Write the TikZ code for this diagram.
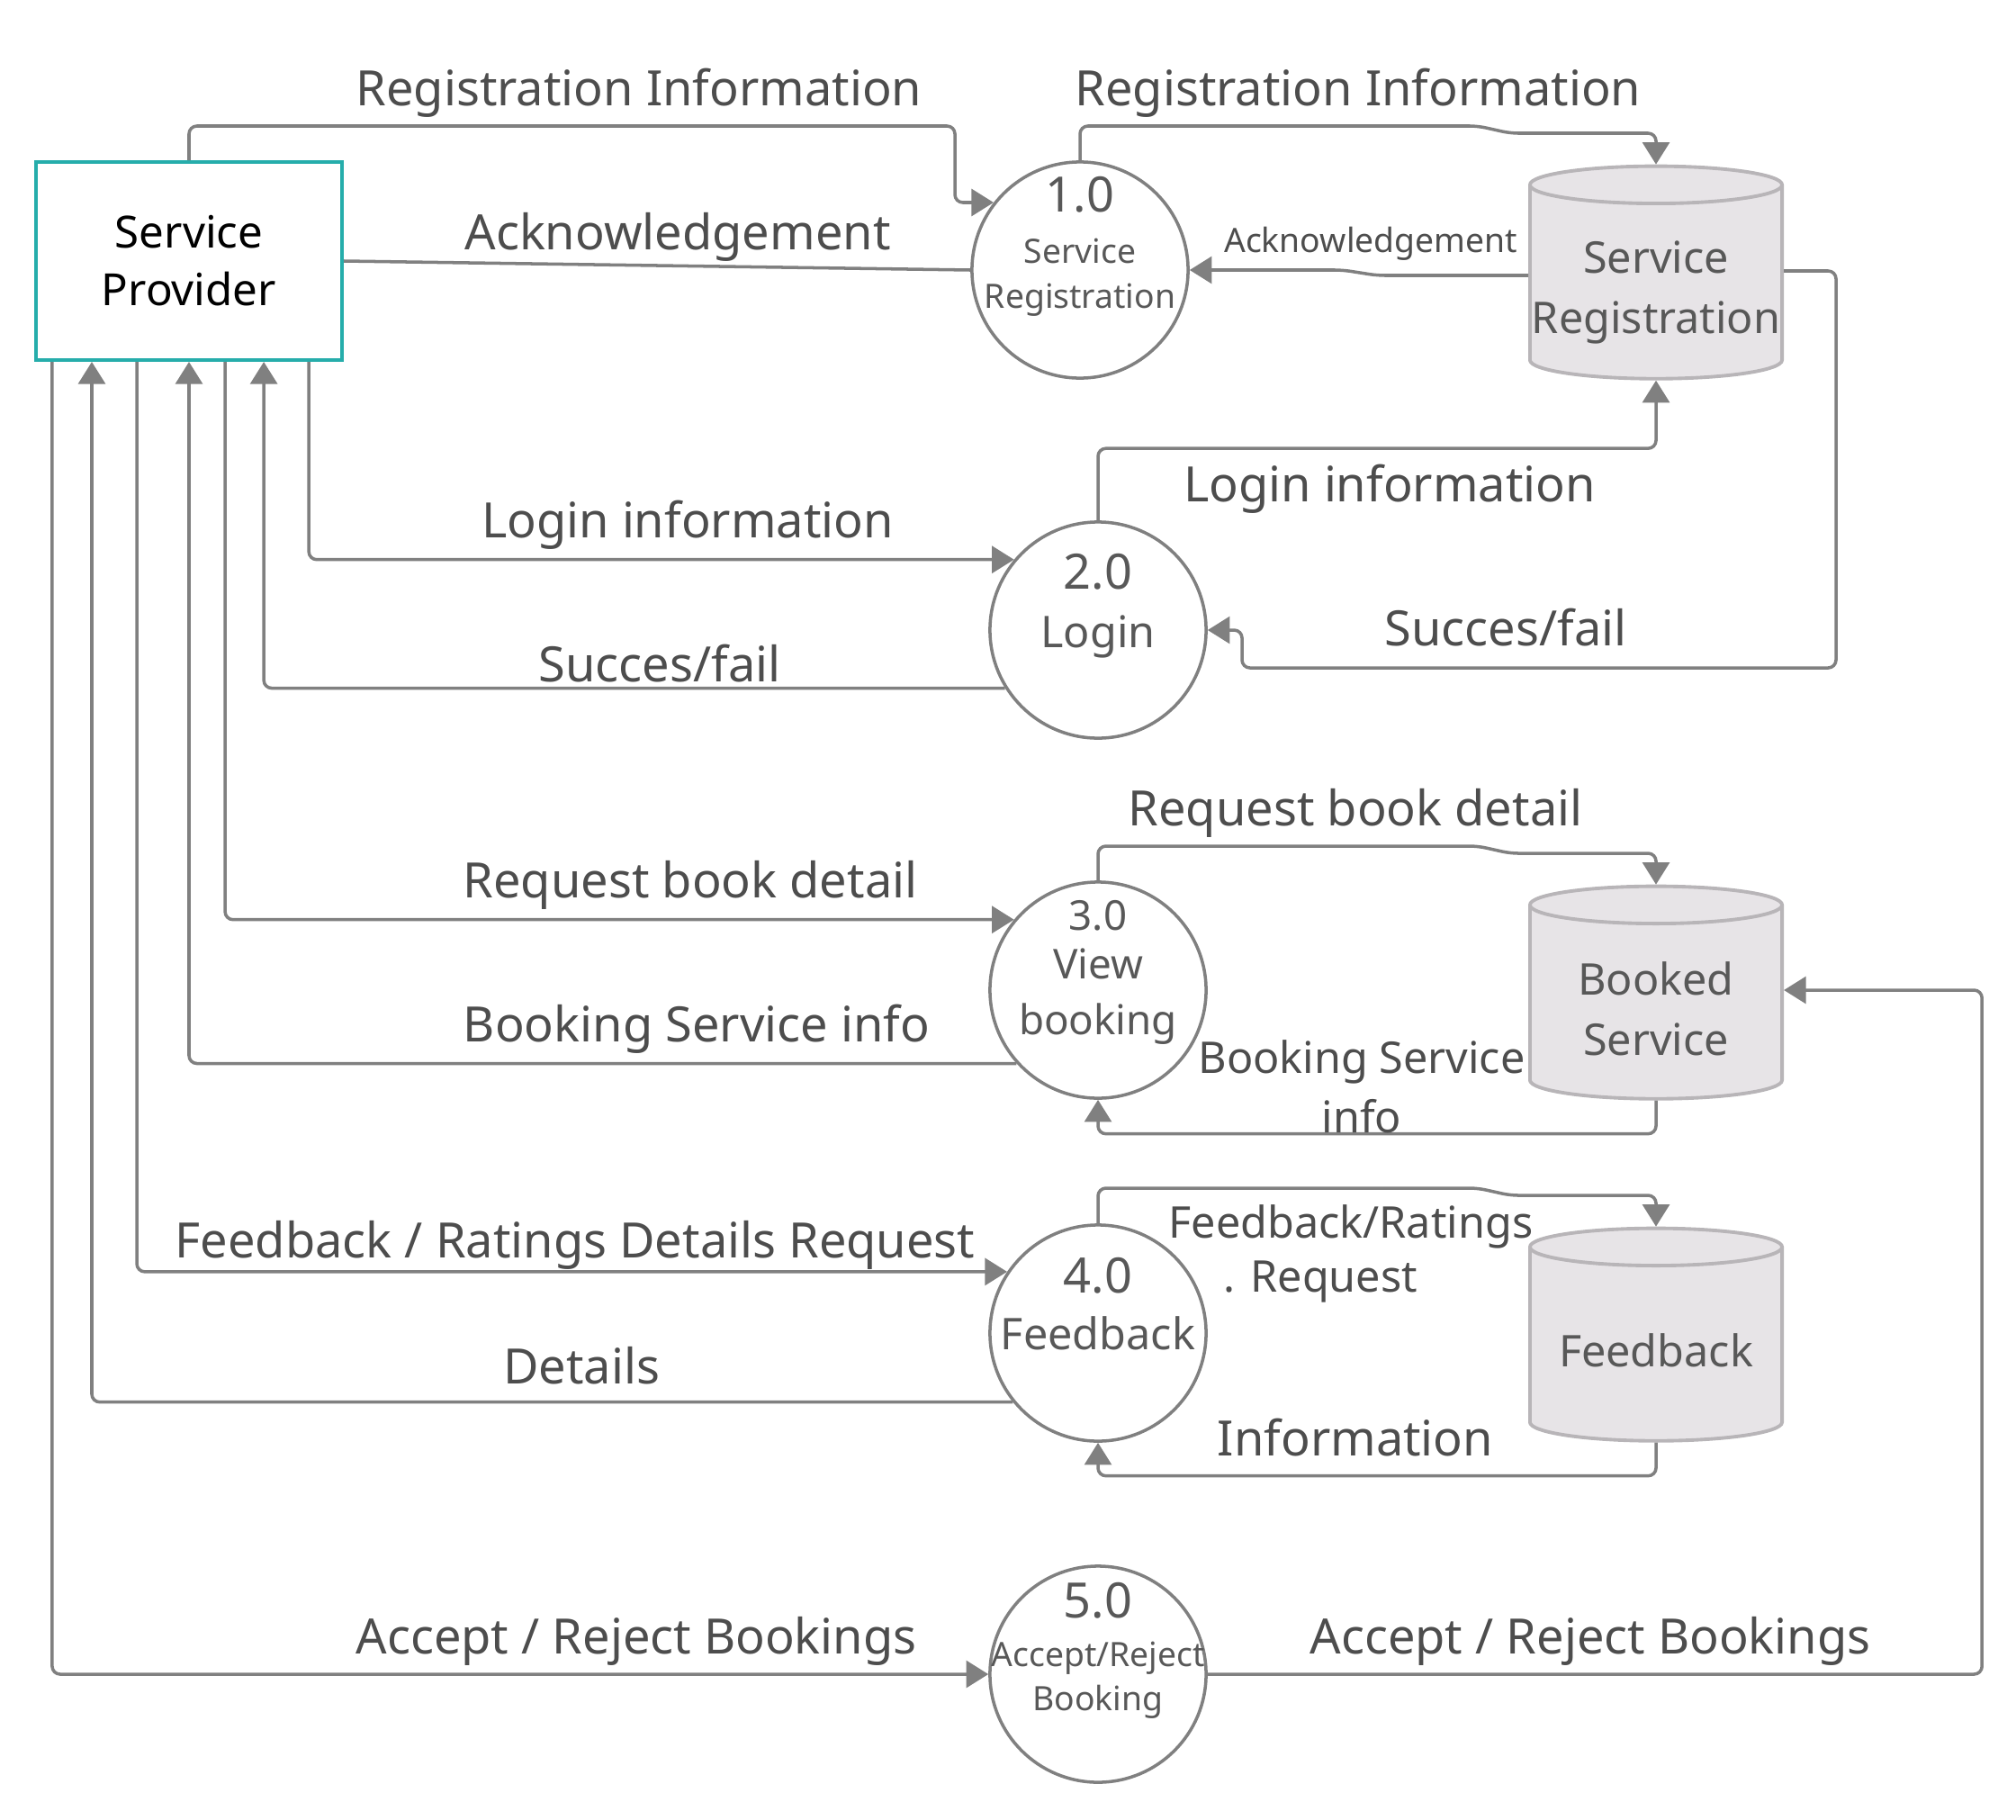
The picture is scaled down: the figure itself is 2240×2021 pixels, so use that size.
\documentclass[tikz,border=0pt]{standalone}
\usepackage{fontspec}
\setmainfont{Noto Sans}
\usetikzlibrary{arrows.meta,shapes.geometric}

\definecolor{flowgray}{RGB}{128,128,128}
\definecolor{labelgray}{RGB}{77,77,77}
\definecolor{namegray}{RGB}{88,88,88}
\definecolor{provteal}{RGB}{38,173,171}
\definecolor{storefill}{RGB}{231,228,231}
\definecolor{storeline}{RGB}{184,181,184}

\newcommand{\bigsz}{\fontsize{15.4pt}{14pt}\selectfont}
\newcommand{\midsz}{\fontsize{13.8pt}{14pt}\selectfont}
\newcommand{\smallsz}{\fontsize{10.6pt}{14pt}\selectfont}

\tikzset{
  flow/.style={draw=flowgray, line width=1pt, rounded corners=2.5pt,
    -{Triangle[width=8.5pt,length=7pt]}},
  plain/.style={draw=flowgray, line width=1pt},
  proc/.style={circle, draw=flowgray, line width=1pt, minimum size=2.4cm, inner sep=0pt},
  pname/.style={text=namegray, align=center, inner sep=0pt, font=\smallsz},
  store/.style={cylinder, shape border rotate=90, aspect=0.15, draw=storeline,
    fill=storefill, line width=1.1pt, minimum width=2.8cm, minimum height=2.36cm,
    inner sep=0pt, font=\midsz},
  sname/.style={text=namegray, align=center, font=\midsz, inner sep=0pt},
  entity/.style={rectangle, draw=provteal, line width=1.1pt, minimum width=3.4cm,
    minimum height=2.2cm, align=center, font=\fontsize{14pt}{18.2pt}\selectfont},
  lbl/.style={text=labelgray, font=\bigsz, inner sep=0pt, align=center}
}

\begin{document}
\begin{tikzpicture}[x=0.01cm, y=-0.01cm]
  \useasboundingbox (0,0) rectangle (2240,2021);

  % Entity, processes and stores
  \node[entity] (sp) at (210,290) {Service\\Provider};
  \node[proc] (p1) at (1200,300) {};
  \node[proc] (p2) at (1220,700) {};
  \node[proc] (p3) at (1220,1100) {};
  \node[proc] (p4) at (1220,1481) {};
  \node[proc] (p5) at (1220,1860) {};
  \node[store] (sr) at (1840,314) {\phantom{Registration}};
  \node[store] (bs) at (1840,1114) {\phantom{Registration}};
  \node[store] (fb) at (1840,1494) {\phantom{Registration}};

  % Names inside
  \node[pname] (p1t) at ([yshift=0.265cm]p1.center) {\bigsz 1.0\\[2.2pt]\smallsz Service\\[0.2pt]\smallsz Registration};
  \node[pname] (p2t) at ([yshift=0.265cm]p2.center) {\bigsz 2.0\\[4.5pt]\midsz Login};
  \node[pname, font=\fontsize{13pt}{14pt}\selectfont] (p3t) at ([yshift=0.2cm]p3.center) {3.0\\[1.5pt]View\\[3.5pt]booking};
  \node[pname] (p4t) at ([yshift=0.32cm]p4.center) {\bigsz 4.0\\[3.9pt]\midsz Feedback};
  \node[pname] (p5t) at ([yshift=0.26cm]p5.center) {\bigsz 5.0\\[1.4pt]\smallsz Accept/Reject\\\smallsz Booking};
  \node[sname] (srt) at ([yshift=-0.11cm]sr.center) {Service\\[5pt]Registration};
  \node[sname] (bst) at ([yshift=-0.07cm]bs.center) {Booked\\[5pt]Service};
  \node[sname] (fbt) at ([yshift=-0.06cm]fb.center) {Feedback};

  % Flows on the left
  \draw[flow] (sp.north) |- (1061,140) |- (p1.142);
  \draw[plain] (p1.west) -- (sp.east);
  \draw[flow] ([xshift=3.05cm]sp.south west) |- (p2.140);
  \draw[flow] (p2.212) -| ([xshift=2.55cm]sp.south west);
  \draw[flow] ([xshift=2.12cm]sp.south west) |- (p3.140);
  \draw[flow] (p3.222) -| (sp.south);
  \draw[flow] ([xshift=1.14cm]sp.south west) |- (p4.146);
  \draw[flow] (p4.219) -| ([xshift=0.64cm]sp.south west);
  \draw[flow] ([xshift=0.20cm]sp.south west) |- (p5.west);

  % Flows on the right
  \draw[flow] (p1.north) |- (1642,140) -- (1678,148) -| (sr.north);
  \draw[flow] ([yshift=0.08cm]sr.west) -- (1530,306) -- (1492,300) -- (p1.east);
  \draw[flow] ([yshift=0.13cm]sr.east) -| (2040,742) -| (1380,700) -- (p2.east);
  \draw[flow] (p2.north) -- ++(0,-80) -| (sr.south);
  \draw[flow] (p3.north) |- (1642,940) -- (1678,948) -| (bs.north);
  \draw[flow] (bs.south) -- ++(0,37) -| (p3.south);
  \draw[flow] (p4.north) |- (1642,1320) -- (1678,1328) -| (fb.north);
  \draw[flow] (fb.south) -- ++(0,37) -| (p4.south);
  \draw[flow] (p5.east) -| ([xshift=2.2cm,yshift=0.14cm]bs.east) -- ([yshift=0.14cm]bs.east);

  % Labels
  \node[lbl] (lRegL) at (710,103) {Registration Information};
  \node[lbl] (lRegR) at (1509,103) {Registration Information};
  \node[lbl] (lAckL) at (753,263) {Acknowledgement};
  \node[lbl, font=\smallsz] (lAckR) at (1523,271) {Acknowledgement};
  \node[lbl] (lLogR) at (1544,543) {Login information};
  \node[lbl] (lSucR) at (1673,697) {Succes/fail};
  \node[lbl] (lLogL) at (764,583) {Login information};
  \node[lbl] (lSucL) at (733,737) {Succes/fail};
  \node[lbl] (lReqR) at (1506,903) {Request book detail};
  \node[lbl] (lReqL) at (767,983) {Request book detail};
  \node[lbl] (lBkL) at (774,1143) {Booking Service info};
  \node[lbl, font=\midsz] (lBkR) at (1513,1207) {Booking Service\\[4.8pt]info};
  \node[lbl] (lFbL) at (639,1383) {Feedback / Ratings Details Request};
  \node[lbl] (lDet) at (646,1517) {Details};
  \node[lbl, font=\midsz, align=left] (lFbR) at (1501,1393) {Feedback/Ratings\\[3pt]\hspace*{0.61cm}. Request};
  \node[lbl] (lInf) at (1506,1597) {Information};
  \node[lbl] (lAccL) at (707,1823) {Accept / Reject Bookings};
  \node[lbl] (lAccR) at (1767,1823) {Accept / Reject Bookings};
\end{tikzpicture}
\end{document}
